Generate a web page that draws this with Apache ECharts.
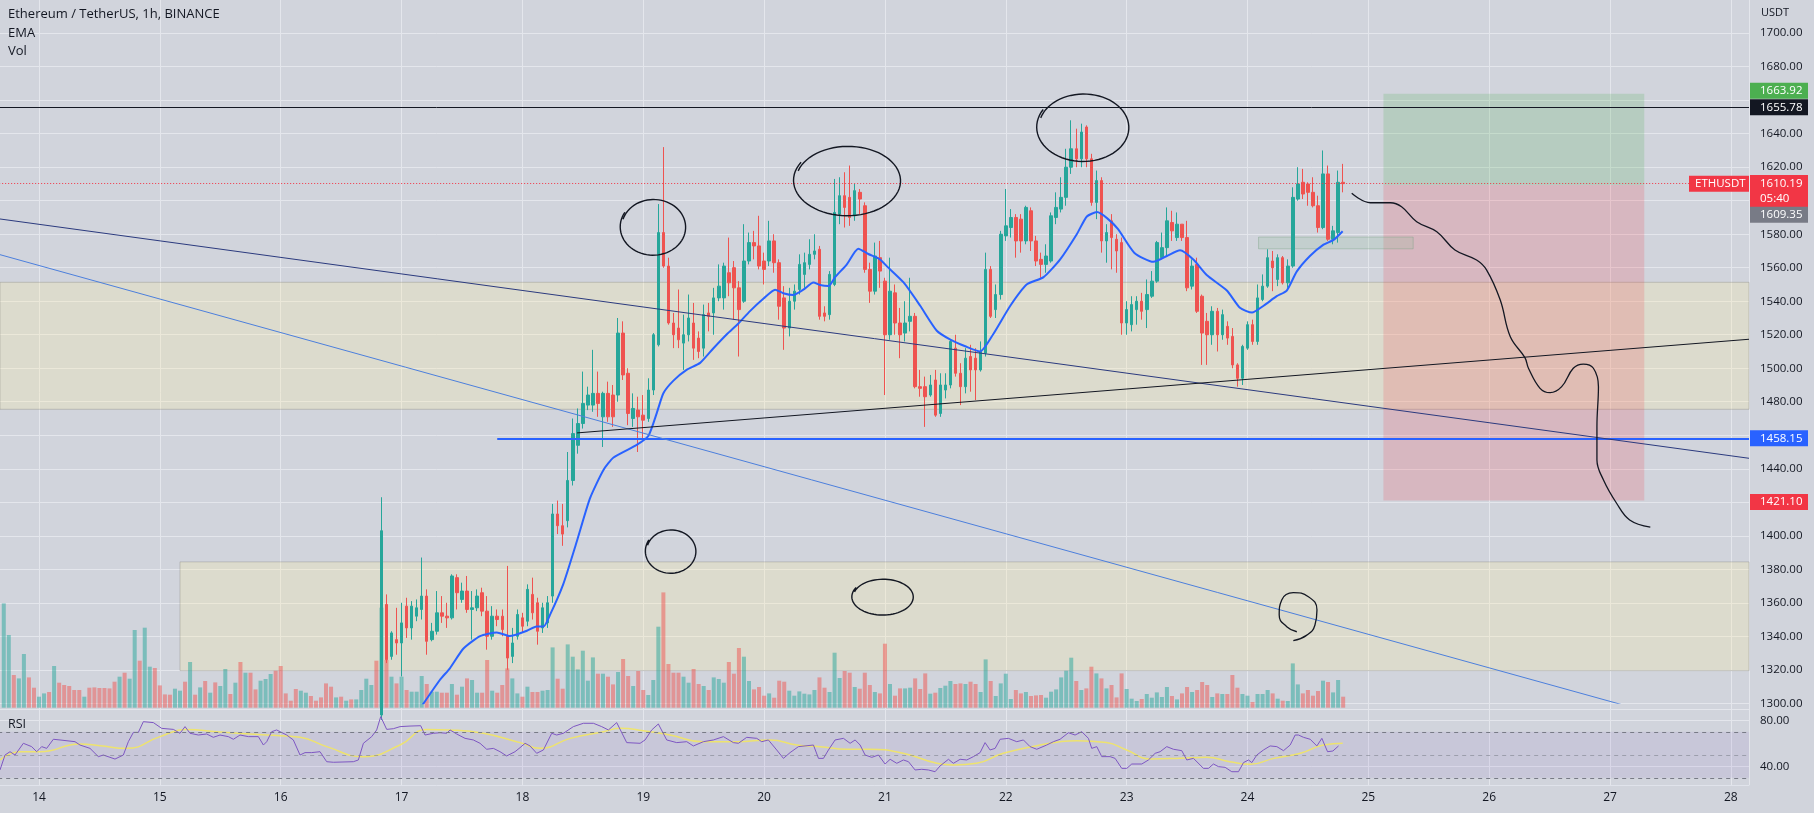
<!DOCTYPE html>
<html><head><meta charset="utf-8">
<script src="https://cdn.jsdelivr.net/npm/echarts/dist/echarts.min.js"></script>
<style>html,body{margin:0;padding:0;background:#d1d4dc;}#c{width:1814px;height:813px;}</style>
</head><body><div id="c"></div><script>
// ---------------- DATA ----------------
// hours counted from 14th 00:00
const candleStart = 68;
const opens = [1293,1359,1328,1338,1336,1358,1345,1352,1356,1364,
1338,1343,1354,1352,1351,1375,1362,1367,1356,1357,
1366,1355,1340,1352,1352,1340,1328,1340,1351,1349,
1365,1360,1345,1348,1364,1413,1406,1409,1433,1454,
1467,1478,1478,1485,1471,1485,1484,1484,1521,1497,
1470,1475,1472,1470,1487,1514,1581,1561,1527,1524,
1515,1520,1527,1518,1512,1533,1533,1542,1542,1557,
1560,1548,1540,1564,1575,1573,1564,1564,1576,1563,
1542,1524,1540,1547,1556,1562,1568,1571,1533,1532,
1550,1592,1603,1602,1591,1605,1597,1559,1546,1566,
1552,1520,1545,1527,1521,1528,1531,1489,1489,1484,
1493,1473,1487,1490,1512,1497,1489,1507,1506,1499,
1509,1559,1535,1544,1579,1584,1590,1589,1576,1594,
1576,1565,1562,1564,1590,1595,1602,1620,1631,1625,
1644,1625,1599,1612,1576,1588,1577,1575,1527,1526,
1535,1540,1535,1543,1552,1566,1572,1587,1578,1586,
1578,1549,1562,1543,1528,1520,1534,1520,1525,1519,
1502,1494,1512,1526,1516,1541,1549,1564,1553,1566,
1551,1561,1601,1611,1610,1605,1597,1584,1616,1577,
1581,1611];
const closes = [1403,1326,1342,1336,1348,1345,1358,1357,1364,1337,
1343,1354,1352,1351,1376,1366,1367,1356,1357,1364,
1355,1340,1352,1350,1344,1327,1336,1353,1346,1368,
1354,1343,1357,1360,1413,1406,1401,1433,1461,1467,
1479,1484,1485,1479,1485,1471,1471,1521,1496,1473,
1476,1471,1469,1487,1520,1581,1561,1527,1520,1517,
1520,1530,1512,1510,1532,1531,1542,1549,1561,1551,
1548,1535,1564,1575,1573,1561,1559,1576,1563,1537,
1524,1540,1546,1562,1563,1568,1570,1531,1531,1556,
1593,1603,1596,1590,1606,1601,1559,1546,1567,1558,
1520,1546,1527,1520,1527,1531,1489,1488,1483,1490,
1472,1490,1490,1516,1497,1489,1506,1499,1499,1510,
1559,1531,1544,1580,1585,1590,1576,1576,1596,1576,
1564,1562,1567,1591,1596,1602,1620,1631,1625,1641,
1625,1599,1612,1576,1581,1578,1570,1527,1535,1538,
1540,1534,1544,1552,1575,1572,1588,1582,1586,1578,
1548,1561,1534,1521,1520,1534,1520,1532,1518,1502,
1494,1513,1526,1516,1542,1549,1566,1560,1566,1551,
1561,1602,1610,1604,1605,1597,1584,1616,1577,1582,
1611,1610.19];
const lows = [1290,1324,1326,1329,1316,1339,1338,1349,1350,1329,
1337,1341,1348,1345,1350,1356,1360,1354,1338,1355,
1352,1332,1338,1346,1340,1320,1324,1338,1342,1346,
1350,1335,1342,1345,1360,1401,1394,1405,1430,1449,
1464,1475,1474,1471,1453,1468,1465,1480,1493,1466,
1465,1450,1458,1468,1484,1513,1560,1526,1512,1512,
1499,1516,1505,1506,1507,1522,1520,1540,1535,1543,
1529,1507,1539,1562,1565,1559,1550,1561,1557,1529,
1511,1519,1535,1544,1548,1559,1565,1529,1528,1529,
1549,1586,1584,1585,1588,1592,1557,1539,1544,1548,
1484,1517,1520,1506,1516,1522,1488,1483,1465,1483,
1471,1471,1482,1488,1495,1478,1485,1486,1481,1498,
1507,1530,1530,1541,1576,1578,1566,1569,1574,1570,
1561,1554,1557,1563,1586,1593,1597,1616,1620,1620,
1620,1597,1589,1569,1563,1559,1557,1520,1520,1522,
1526,1529,1524,1542,1551,1565,1567,1576,1576,1576,
1546,1547,1533,1502,1502,1514,1510,1517,1514,1500,
1489,1490,1511,1514,1514,1540,1548,1546,1549,1550,
1548,1560,1600,1601,1597,1596,1581,1583,1576,1574,
1575,1605];
const highs = [1423,1365,1343,1357,1360,1363,1361,1362,1387,1368,
1348,1367,1364,1360,1377,1377,1372,1376,1367,1368,
1369,1364,1358,1356,1356,1382,1345,1356,1354,1371,
1375,1363,1360,1364,1419,1421,1419,1450,1470,1476,
1498,1489,1511,1498,1486,1492,1490,1530,1528,1500,
1485,1483,1484,1494,1521,1598,1632,1566,1533,1547,
1532,1544,1539,1522,1538,1539,1548,1562,1563,1578,
1564,1552,1586,1581,1582,1591,1569,1588,1580,1565,
1549,1548,1550,1568,1569,1577,1580,1573,1537,1558,
1613,1614,1617,1621,1610,1607,1599,1563,1575,1576,
1554,1566,1550,1536,1540,1554,1533,1499,1495,1496,
1499,1497,1497,1517,1520,1503,1512,1514,1512,1516,
1569,1561,1550,1582,1607,1595,1592,1592,1597,1596,
1579,1569,1574,1593,1605,1614,1631,1648,1643,1646,
1645,1628,1618,1614,1586,1592,1580,1578,1540,1543,
1543,1545,1553,1558,1576,1581,1596,1594,1593,1586,
1588,1565,1566,1544,1533,1537,1536,1535,1528,1524,
1503,1514,1528,1529,1550,1556,1571,1570,1568,1567,
1565,1608,1620,1619,1611,1614,1603,1630,1621,1585,
1618,1622];

const volStart = -7;
const volumes = [104.3,72.7,32.7,29.3,53.7,30.3,20,11,14.3,15.7,
41.7,25,22.7,21.7,17.7,17.7,11,20,20.3,19.7,
19.7,19.3,26,31,35,29,77.7,47,80,41,
39.7,22.3,13.3,13,19,17,26,45.7,13,20.3,
26.7,15,25.3,21.7,38.7,13.7,25,45.7,35,35,
18.3,27,28.7,33.7,37,41.7,14.3,7,18.7,17,
15,11.7,7,10.3,24.3,21,10.3,11,7,8.3,
8.3,17.7,29,22.7,47,100,47.7,31,24.3,31,
17.7,16,16,31.7,23.7,16,16,15,15,23.7,
13,21,29.3,27.7,15,15,47.7,17,15,22.7,
39.3,29.3,14.3,11,21,15.7,15.7,17,17.7,60.3,
29,19,63.3,51,38.3,57,27,50.3,34,34,
31,23.3,35.7,48.7,31.7,21.7,36.7,17.7,12.7,27.7,
81,115.3,43.7,35,35,31,25,38.7,23.7,21.7,
17.7,30.3,28.7,25,45.7,34,59.7,51,26.7,18.3,
20.7,12,14.3,10,27,26,17,12,16.3,14,
13.3,17.7,30.3,20,15.7,55,29.7,36.7,35,20.7,
19,35,22.7,15.7,14.3,64,23.7,12,19.3,19.3,
20,29.3,18.7,34.3,14,15,19.7,22,26.7,23.7,
24.3,23.7,26,23.7,15.7,48.3,26.7,11.7,24.3,34,
8.7,17.7,14.3,15.7,11.7,12.3,12.7,10,16,18.3,
30.3,37,50,26.7,17.7,19.3,41,34.3,29.3,19.3,
22.7,10.3,34.3,18.7,9,6.7,8.7,13.7,10,15.3,
10.7,20.7,11.7,8.3,14.3,20.7,15.7,17.7,25.7,22.7,
10.7,14.3,13.7,13.7,32.7,20,13.7,12,5.7,13.7,
13.7,17.7,14.3,9,7,6.7,44.3,23.3,14.3,17.7,
12,16.7,27,25.7,15.3,27.7,11];
// direction of the volume bars before the first visible candle (G = up, R = down)
const earlyVolDir = "GGRGGRRGGRGRRRRRGRRRRRRGRGGRGGRRRRGGRGRGRGRGGRGRGRRGGGRRRRRGGRRRRRGRGRGGGG".slice(0, 75);

const emaPoints = [[75.8,1297.4],[79.6,1313.9],[81.6,1320.9],[84.3,1332.7],[87.6,1340.1],[90.9,1342.3],[93.5,1340.1],
[96.9,1343.3],[98.8,1345.9],[100.2,1345.9],[101.5,1352.9],[104.1,1371],[106.8,1396.6],[109.4,1422.2],[112.1,1439.3],
[114.1,1446.7],[118.7,1454.2],[121,1459.5],[122.7,1473.4],[124,1485.1],[126,1492.6],[128.6,1499],[131.3,1503.2],
[133.9,1511.8],[136.6,1520.3],[138.9,1526.7],[141.2,1534.1],[143.9,1541.6],[146.2,1546.9],[147.8,1544.8],[149.8,1543.7],
[151.8,1546.9],[153.8,1551.2],[155.1,1549.7],[156.8,1549.1],[158.1,1554.4],[160.4,1561.9],[162.7,1571.4],[164.7,1568.2],
[167,1565],[168.4,1560.8],[171.7,1551.2],[175,1537.3],[178.3,1522.4],[181,1517.1],[184.2,1512.8],[186.9,1510],
[189.5,1520.3],[192.9,1537.3],[196.2,1550.1],[199.5,1554.4],[202.8,1565],[206.1,1580],[208.1,1590.6],[210.1,1593.2],
[212.1,1589.6],[214.3,1583],[217.5,1569],[221.3,1563.5],[224,1567],[226.6,1570.4],[229.3,1564.7],[231.9,1555.6],
[235.9,1546.4],[238.5,1536.1],[240.9,1533.2],[243.2,1537.3],[245.8,1543],[247.8,1546.4],[249.8,1557.8],[252.4,1567],
[255.1,1573.8],[257.1,1576.6],[258.9,1581.8]];

const rsiPoints = [[-7.75,36.8],[-6.75,49.8],[-5.76,52.7],[-4.77,49.8],[-3.11,60],[-1.46,57.1],[-0.46,52.7],[0.53,57.1],
[1.52,55.6],[2.85,63.5],[4.17,62.9],[7.15,61.4],[8.14,58.5],[10.13,55.6],[11.78,48.4],[12.78,49.8],[15.09,46.3],
[16.75,49.8],[17.74,61.4],[18.74,69.5],[19.73,69.5],[20.72,78.8],[22.71,78],[24.36,73],[26.68,72.1],[28,68.7],
[29,74.5],[29.99,68.7],[31.65,67.2],[33.3,68.1],[34.62,65.2],[35.95,67.2],[37.6,65.8],[38.6,63.5],[39.92,67.2],
[41.58,65.8],[43.56,65.8],[44.56,58.5],[45.22,61.4],[46.21,70.1],[47.2,71.6],[49.19,67.2],[50.51,62.9],[51.84,49.8],
[52.83,51.9],[54.15,51.9],[55.81,52.7],[57.13,44],[58.46,43.5],[62.43,44],[63.42,45.5],[64.42,60],[66.07,65.8],
[67.06,71.6],[67.86,83.2],[69.05,72.1],[70.37,72.7],[71.7,74.5],[73.68,75],[75.8,75.3],[76.66,67.2],[78.32,68.7],
[79.64,69.2],[80.97,68.7],[81.63,71.6],[82.95,68.1],[84.61,64.3],[86.26,62.9],[87.59,60],[88.91,54.8],[90.24,55.6],
[91.56,52.7],[92.88,49],[94.54,52.7],[95.53,56.2],[96.53,60],[97.52,57.7],[98.84,51.3],[100.17,54.2],[101.82,68.7],
[102.81,67.2],[104.14,68.7],[106.12,74.5],[108.11,77.4],[110.1,77.4],[111.75,74.5],[113.08,71.6],[114.73,78],
[116.72,60.6],[119.37,60],[120.36,62.9],[121.68,71.6],[123,76.8],[124.66,62.9],[126.65,60.6],[128.63,61.4],
[129.96,57.7],[131.94,61.4],[133.93,62.9],[135.92,65.8],[137.9,60.6],[138.9,60],[140.55,65.2],[142.54,64.3],
[143.53,61.4],[144.85,62.9],[146.51,54.2],[147.84,46.9],[149.16,51.9],[150.82,57.1],[153.8,58.5],[154.8,46.9],
[155.79,46.9],[156.78,54.2],[158.1,62.9],[159.76,64.3],[161.08,60],[162.08,62.9],[163.07,58.5],[164.06,49.8],
[165.39,47.8],[166.71,49.8],[168.03,42],[169.03,46.1],[170.35,42.6],[171.67,45.5],[172.67,44],[173.99,36.8],
[175.31,37.4],[176.64,36.8],[177.96,35.3],[178.95,40.3],[180.61,46.1],[181.6,42.6],[182.93,46.1],[184.25,45.5],
[185.57,48.4],[186.9,51.9],[187.89,60.6],[188.88,54.2],[189.88,55.6],[190.87,63.5],[192.52,64.3],[194.18,61.4],
[195.5,62.9],[196.82,57.1],[198.15,54.8],[200.13,58.5],[201.46,61.4],[202.78,63.5],[204.44,69.2],[205.76,67.2],
[207.09,70.1],[208.41,64.3],[209.07,55.6],[210.07,57.1],[211.06,48.4],[212.72,48.4],[213.71,46.9],[215.03,38.2],
[216.03,38.2],[217.02,42],[219.01,42],[220.33,45.5],[221.66,51.3],[222.65,52.7],[223.97,57.1],[225.3,54.8],
[226.95,53.6],[227.95,45.5],[229.27,46.9],[231.26,38.2],[232.25,38.2],[233.24,42],[234.24,39.7],[235.56,39.1],
[236.88,35.3],[238.21,35.3],[239.2,43.2],[240.2,45.5],[240.86,43.2],[241.85,49.8],[243.18,54.2],[244.5,57.7],
[245.83,57.1],[247.15,53.6],[248.48,58.5],[249.47,67.2],[250.13,67.2],[251.13,65.2],[252.45,63.5],[253.78,57.7],
[254.77,64.3],[255.9,52.7],[256.96,53.3],[258.08,57.7]];

const rsiMaPoints = [[-7.75,45.5],[-3.77,52.7],[0.2,52.7],[8.14,59.4],[12.12,57.9],[17.41,55.6],[24.03,65.8],
[29.33,72.1],[35.29,70.1],[45.22,67.2],[51.84,65.2],[57.13,57.1],[64.42,48.4],[71.7,58.5],[77,72.1],[81.63,71.6],
[88.25,68.7],[95.53,60.6],[99.5,55.6],[105.5,64.3],[112.1,70.1],[115.4,73],[120,71],[125.3,67.2],[131.9,61.4],
[138.6,61.4],[145.2,62.9],[150.5,58.5],[155.1,57.1],[160.4,54.8],[165,54.8],[171.6,51.3],[178.3,42.6],[181.6,41.1],
[186.2,42.6],[191.5,51.3],[198.8,58.5],[202.8,61.4],[206.1,62.3],[212,60.6],[216,54.2],[220.7,46.4],[226.6,47],
[231.9,47.8],[236.5,44],[240.5,41.7],[245.2,46.9],[250.5,51.3],[255.1,58.5],[258.9,60]];

const dayLabels = ['13','14','15','16','17','18','19','20','21','22','23','24','25','26','27','28'];

// drawings, in (hour, price)
const supplyZone = [[-7.75, 339.6, 1475.5, 1551.3]];
const demandZone = [[28, 339.6, 1319.5, 1384.4]];
const rrProfit = [[267, 318.8, 1609.35, 1663.92]];
const rrLoss = [[267, 318.8, 1421.10, 1609.35]];
const smallBox = [[242.2, 272.9, 1571.3, 1578.3]];
const navyTrend = [[-7.75, 1589.1], [339.6, 1446.25]];
const blueTrend = [[-7.75, 1567.8], [315.65, 1298.1]];
const neckline = [[106.85, 1461.4], [339.6, 1517.3]];
const handCircles = [[122.0,1584.3,6.6,17.1],[160.6,1612.0,10.8,21.3],[207.4,1643.8,9.3,20.7],[125.5,1390.7,5.1,13.3],[167.6,1363.5,6.2,11.0]];
const ninePath = [[249.8,1342.7],[247.8,1345.7],[246.3,1352.7],[246.8,1361.7],[249.1,1366.0],[252.1,1363.6],[253.8,1355.7],[253.4,1346.7],[251.8,1340.7],[249.1,1337.4]];
const projectionPath = [[260.7,1604.4],[264.4,1598.8],[268.4,1598.8],[270.6,1596.4],[273.6,1587.5],[277.6,1581.5],[281.2,1570.6],[285.5,1564.6],[287.5,1558.6],[290.2,1540.7],[292.2,1518.8],[295.1,1506.3],[295.8,1500],[298.1,1488],[300.1,1485.4],[302.4,1489],[304.7,1500],[306.7,1502.5],[308.7,1500],[309.7,1489],[309.4,1465.1],[309.4,1445.3],[310.7,1433.3],[313.3,1419.4],[315.9,1409.4],[320,1405.1]];
const levels = {resistance:1655.78, last:1610.19, entry:1609.35, target:1663.92, stop:1421.10, support:1458.15, supportFrom:91};

// ---------------- CHART ----------------
const FONT = "'Open Sans','Noto Sans',sans-serif";
const TXT = '#131722';
const GRIDC = '#e4e6ec';
const UP = '#26a69a', DOWN = '#ef5350';
const X0 = -81.84, XW = 1830.84;
const XMIN = -24, XMAX = 339.6;

const candleData = opens.map((o, i) => [candleStart + i, o, closes[i], lows[i], highs[i]]);
const volData = volumes.map((v, i) => {
  const h = volStart + i;
  let up;
  if (h >= candleStart) { const k = h - candleStart; up = closes[k] >= opens[k]; }
  else up = earlyVolDir[i] === 'G';
  return {value: [h, v], itemStyle: {color: up ? 'rgba(38,166,154,0.5)' : 'rgba(239,83,80,0.5)'}};
});

function rectRender(style) {
  return function (params, api) {
    const a = api.coord([api.value(0), api.value(3)]);
    const b = api.coord([api.value(1), api.value(2)]);
    return {type: 'rect', shape: {x: a[0], y: a[1], width: b[0] - a[0], height: b[1] - a[1]}, style: style};
  };
}
function ellipseRender(params, api) {
  const c = api.coord([api.value(0), api.value(1)]);
  const s = api.size([api.value(2), api.value(3)]);
  const pts = [];
  const n = 72;
  for (let k = 0; k <= n; k++) {
    const t = 2.6 + (k / n) * (Math.PI * 2 + 0.25);
    const f = 1 - 0.05 * k / n;
    pts.push([c[0] + s[0] * f * Math.cos(t), c[1] - s[1] * f * Math.sin(t)]);
  }
  return {type: 'polyline', shape: {points: pts}, style: {stroke: TXT, lineWidth: 1.4, fill: null}};
}
function badge(text, bg, offY, extra) {
  return Object.assign({
    show: true, position: 'end', distance: 1, formatter: text, backgroundColor: bg, color: '#ffffff',
    fontSize: 11.5, fontFamily: FONT, padding: [2, 6, 1, 10], width: 42, lineHeight: 13, offset: [0, offY]
  }, extra || {});
}
const hidden = {color: 'rgba(0,0,0,0)', width: 0};

const xBase = {type: 'value', min: XMIN, max: XMAX, interval: 24};
const gridBase = {outerBoundsMode: 'none', containLabel: false, left: X0, width: XW};
const option = {
  backgroundColor: '#d1d4dc',
  animation: false,
  grid: [
    Object.assign({top: -0.31, height: 703.6}, gridBase),
    Object.assign({top: 507.7, height: 200}, gridBase),
    Object.assign({top: 709.03, height: 103.27}, gridBase),
    Object.assign({top: 0, height: 785}, gridBase)
  ],
  xAxis: [
    Object.assign({gridIndex: 0, show: false}, xBase),
    Object.assign({gridIndex: 1, show: false}, xBase),
    Object.assign({gridIndex: 2, show: false}, xBase),
    Object.assign({gridIndex: 3, position: 'bottom',
      axisLine: {show: true, lineStyle: {color: '#e0e3eb'}}, axisTick: {show: false},
      splitLine: {show: true, showMinLine: false, lineStyle: {color: GRIDC}},
      axisLabel: {margin: 7, color: TXT, fontSize: 12, fontFamily: FONT, showMaxLabel: false,
        formatter: v => (Math.abs(v / 24 - Math.round(v / 24)) < 1e-6 ? dayLabels[Math.round(v / 24) + 1] : '')}
    }, xBase)
  ],
  yAxis: [
    {gridIndex: 0, type: 'value', min: 1300, max: 1720, interval: 20, position: 'right',
      axisLine: {show: false}, axisTick: {show: false},
      splitLine: {show: true, showMaxLine: false, lineStyle: {color: GRIDC}},
      axisLabel: {margin: 11, color: TXT, fontSize: 11.5, fontFamily: FONT,
        formatter: v => ([1720, 1660, 1600, 1460, 1420].indexOf(v) >= 0 ? '' : v.toFixed(2))}},
    {gridIndex: 1, type: 'value', min: 0, max: 200, show: false},
    {gridIndex: 2, type: 'value', min: 0, max: 89.8, interval: 40, position: 'right',
      axisLine: {show: false}, axisTick: {show: false},
      splitLine: {show: true, showMinLine: false, lineStyle: {color: GRIDC}},
      axisLabel: {margin: 11, color: TXT, fontSize: 11.5, fontFamily: FONT,
        formatter: v => (v === 40 || v === 80 ? v.toFixed(2) : '')}},
    {gridIndex: 3, type: 'value', min: 0, max: 1, show: false}
  ],
  graphic: [
    {type: 'text', z: 100, left: 8, top: 8, style: {text: 'Ethereum / TetherUS, 1h, BINANCE', fill: TXT, font: '13px ' + FONT}},
    {type: 'text', z: 100, left: 8, top: 27, style: {text: 'EMA', fill: TXT, font: '13px ' + FONT}},
    {type: 'text', z: 100, left: 8, top: 45, style: {text: 'Vol', fill: TXT, font: '13px ' + FONT}},
    {type: 'text', z: 100, left: 8, top: 718, style: {text: 'RSI', fill: TXT, font: '12.5px ' + FONT}},
    {type: 'text', z: 100, left: 1761, top: 7, style: {text: 'USDT', fill: TXT, font: '11px ' + FONT}}
  ],
  series: [
    {type: 'custom', name: 'supply', xAxisIndex: 0, yAxisIndex: 0, z: 1, clip: true, data: supplyZone,
      encode: {x: [0, 1], y: [2, 3]},
      renderItem: rectRender({fill: 'rgba(255,240,160,0.25)', stroke: 'rgba(130,130,120,0.35)', lineWidth: 1})},
    {type: 'custom', name: 'demand', xAxisIndex: 0, yAxisIndex: 0, z: 1, clip: true, data: demandZone,
      encode: {x: [0, 1], y: [2, 3]},
      renderItem: rectRender({fill: 'rgba(255,240,160,0.25)', stroke: 'rgba(130,130,120,0.35)', lineWidth: 1})},
    {type: 'custom', name: 'profit', xAxisIndex: 0, yAxisIndex: 0, z: 1, clip: true, data: rrProfit,
      encode: {x: [0, 1], y: [2, 3]},
      renderItem: rectRender({fill: 'rgba(76,175,80,0.2)'})},
    {type: 'custom', name: 'loss', xAxisIndex: 0, yAxisIndex: 0, z: 1, clip: true, data: rrLoss,
      encode: {x: [0, 1], y: [2, 3]},
      renderItem: rectRender({fill: 'rgba(242,54,69,0.18)'})},
    {type: 'custom', name: 'box', xAxisIndex: 0, yAxisIndex: 0, z: 1, clip: true, data: smallBox,
      encode: {x: [0, 1], y: [2, 3]},
      renderItem: rectRender({fill: 'rgba(140,190,150,0.2)', stroke: 'rgba(120,160,130,0.4)', lineWidth: 1})},
    {type: 'bar', name: 'Vol', xAxisIndex: 1, yAxisIndex: 1, z: 2, barWidth: 4, data: volData},
    {type: 'candlestick', name: 'ETHUSDT', xAxisIndex: 0, yAxisIndex: 0, z: 3, barWidth: 3,
      data: candleData, encode: {x: 0, y: [1, 2, 3, 4]},
      itemStyle: {color: UP, color0: DOWN, borderColor: UP, borderColor0: DOWN, borderWidth: 1}},
    {type: 'line', name: 'EMA', xAxisIndex: 0, yAxisIndex: 0, z: 4, data: emaPoints, showSymbol: false,
      smooth: 0.2, lineStyle: {color: '#2962ff', width: 2}},
    {type: 'line', xAxisIndex: 0, yAxisIndex: 0, z: 5, data: navyTrend, showSymbol: false,
      lineStyle: {color: '#2b3a7e', width: 1}},
    {type: 'line', xAxisIndex: 0, yAxisIndex: 0, z: 5, data: blueTrend, showSymbol: false,
      lineStyle: {color: '#4c7fdc', width: 1}},
    {type: 'line', xAxisIndex: 0, yAxisIndex: 0, z: 5, data: neckline, showSymbol: false,
      lineStyle: {color: TXT, width: 1}},
    {type: 'line', xAxisIndex: 0, yAxisIndex: 0, z: 6, data: projectionPath, showSymbol: false, smooth: 0.4,
      lineStyle: {color: TXT, width: 1.3}},
    {type: 'line', xAxisIndex: 0, yAxisIndex: 0, z: 6, data: ninePath, showSymbol: false, smooth: 0.5,
      lineStyle: {color: TXT, width: 1.3}},
    {type: 'custom', xAxisIndex: 0, yAxisIndex: 0, z: 6, clip: true, data: handCircles,
      encode: {x: 0, y: 1}, renderItem: ellipseRender},
    {type: 'line', name: 'levels', xAxisIndex: 0, yAxisIndex: 0, z: 10, data: [], silent: true,
      markLine: {silent: true, symbol: ['none', 'none'], animation: false,
        data: [
          {yAxis: levels.resistance, lineStyle: {color: TXT, width: 1, type: 'solid'}, label: badge('1655.78', '#131722', 0)},
          {yAxis: levels.target, lineStyle: hidden, label: badge('1663.92', '#4caf50', -2.8)},
          {yAxis: levels.last, lineStyle: {color: '#f23645', width: 1, type: [1, 2]},
            label: badge('1610.19\n05:40', '#f23645', 7.3, {lineHeight: 15, padding: [1, 6, 1, 10]})},
          {yAxis: levels.last, lineStyle: hidden,
            label: badge('ETHUSDT', '#f23645', 0, {offset: [-61, 0], width: 48, padding: [2, 6, 1, 6]})},
          {yAxis: levels.entry, lineStyle: hidden, label: badge('1609.35', '#787b86', 29.7)},
          [{coord: [levels.supportFrom, levels.support], lineStyle: {color: '#2962ff', width: 2, type: 'solid'},
            label: badge('1458.15', '#2962ff', 0)},
           {coord: [XMAX, levels.support]}],
          {yAxis: levels.stop, lineStyle: hidden, label: badge('1421.10', '#f23645', 1.5)}
        ]}},
    {type: 'line', name: 'RSI', xAxisIndex: 2, yAxisIndex: 2, z: 4, data: rsiPoints, showSymbol: false,
      lineStyle: {color: '#7e57c2', width: 1},
      markArea: {silent: true, itemStyle: {color: 'rgba(126,87,194,0.1)'}, data: [[{yAxis: 30}, {yAxis: 70}]]},
      markLine: {silent: true, symbol: ['none', 'none'], label: {show: false},
        lineStyle: {color: '#787b86', width: 1, type: [4, 4]},
        data: [{yAxis: 70}, {yAxis: 50, lineStyle: {color: 'rgba(120,123,134,0.55)', type: [4, 4]}}, {yAxis: 30}]}},
    {type: 'line', name: 'RSI MA', xAxisIndex: 2, yAxisIndex: 2, z: 3, data: rsiMaPoints, showSymbol: false,
      smooth: 0.5, lineStyle: {color: 'rgba(245,232,90,0.85)', width: 1.5}}
  ]
};
const chart = echarts.init(document.getElementById('c'), null, {renderer: 'canvas'});
chart.setOption(option);
</script></body></html>
